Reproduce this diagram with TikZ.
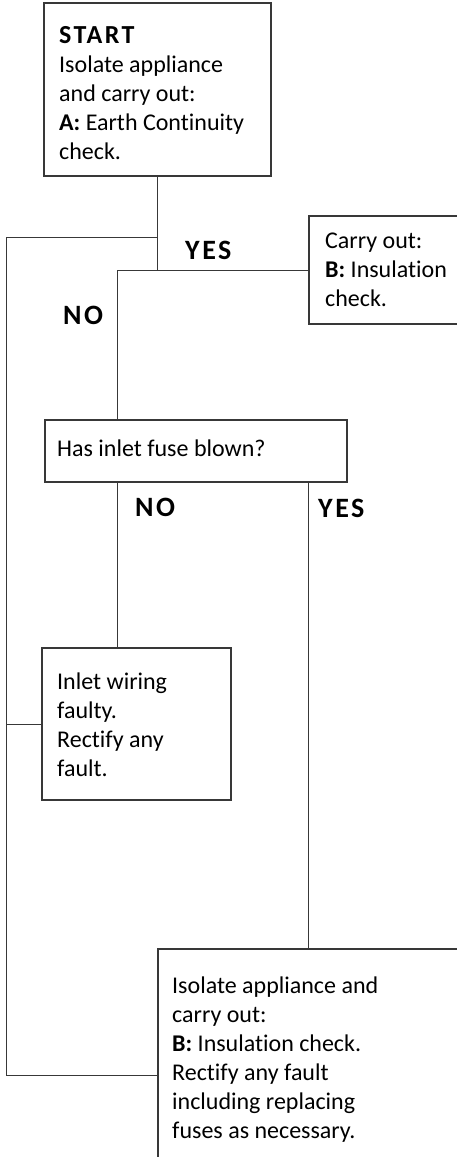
\documentclass[tikz,border=0pt]{standalone}
\usepackage{fontspec}
\setmainfont[Ligatures=NoCommon]{Carlito}
\newfontfamily\lblfont[Ligatures=NoCommon,LetterSpace=9]{Carlito}
\begin{document}
\begin{tikzpicture}[x=1pt,y=-1pt,
  box/.style={draw=black!78,line width=1.1pt,rectangle,inner sep=0pt},
  txt/.style={inner sep=0pt,align=left,font=\fontsize{24}{29}\selectfont,text=black},
  lbl/.style={inner sep=0pt,anchor=base west,font=\lblfont\fontsize{28}{29}\selectfont\bfseries,text=black},
  wire/.style={draw=black!78,line width=1pt}]
\path[use as bounding box,clip] (0,0) rectangle (457,1157);
% boxes
\node[box,minimum width=227pt,minimum height=173pt] (start) at (157.5,89.5) {};
\node[box,minimum width=160pt,minimum height=108pt] (carry) at (389,270) {};
\node[box,minimum width=302pt,minimum height=62pt] (fuse) at (196,451) {};
\node[box,minimum width=189pt,minimum height=152pt] (inlet) at (136.5,724) {};
\node[box,minimum width=300pt,minimum height=252pt] (last) at (308,1075) {};
% texts
\node[txt,anchor=north west] (starttxt) at (59,{43-20.3}) {\strut{\lblfont\fontsize{26}{29}\selectfont\bfseries START}\\\strut Isolate appliance\\\strut and carry out:\\\strut\textbf{A:} Earth Continuity\\\strut check.};
\node[txt,anchor=north west] (carrytxt) at (325,{248-20.3}) {\strut Carry out:\\\strut\textbf{B:} Insulation\\\strut check.};
\node[txt,anchor=base west] (fusetxt) at (57,456) {Has inlet fuse blown?};
\node[txt,anchor=north west] (inlettxt) at (57,{689-20.3}) {\strut Inlet wiring\\\strut faulty.\\\strut Rectify any\\\strut fault.};
\node[txt,anchor=north west] (lasttxt) at (172,{993-20.3}) {\strut Isolate appliance and\\\strut carry out:\\\strut\textbf{B:} Insulation check.\\\strut Rectify any fault\\\strut including replacing\\\strut fuses as necessary.};
% labels
\node[lbl] (yes1) at (185,259) {YES};
\node[lbl] (no1) at (63,324) {NO};
\node[lbl] (no2) at (135,516) {NO};
\node[lbl] (yes2) at (318,517) {YES};
% connectors
\coordinate (nojoin) at (117,270);
\coordinate (loopstart) at (157,237);
\coordinate (lt) at (6,237);
\coordinate (lb) at (lt |- last.west);
\path[wire] (start.south) -- (start.south |- carry.west);
\path[wire] (carry.west) -- (nojoin) -- (nojoin |- fuse.north);
\path[wire] (nojoin |- fuse.south) -- (nojoin |- inlet.north);
\path[wire] (last.north |- fuse.south) -- (last.north);
\path[wire] (loopstart) -- (lt) -- (lb) -- (last.west);
\path[wire] (inlet.west) -- (inlet.west -| lt);
\end{tikzpicture}
\end{document}
